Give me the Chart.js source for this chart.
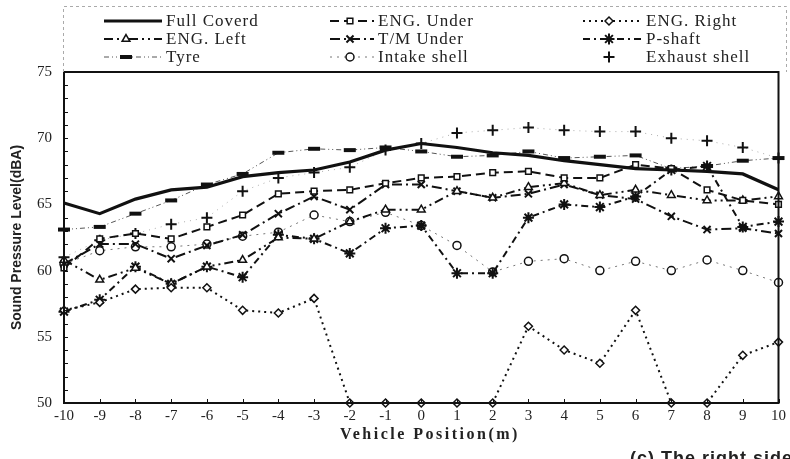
<!DOCTYPE html>
<html>
<head>
<meta charset="utf-8">
<script src="https://cdn.jsdelivr.net/npm/chart.js@4.4.1/dist/chart.umd.min.js"></script>
<style>
    html, body { margin: 0; padding: 0; background: #fff; }
    #wrap { width: 790px; height: 459px; }
</style>
</head>
<body>
<div id="wrap"><canvas id="noiseChart" width="790" height="459"></canvas></div>
<script>
// Vehicle position (m) along the pass-by line
const positions = ['-10', '-9', '-8', '-7', '-6', '-5', '-4', '-3', '-2', '-1', '0',
                   '1', '2', '3', '4', '5', '6', '7', '8', '9', '10'];

// Sound pressure level (dBA) per configuration
const fullCoverd = [65.1, 64.3, 65.4, 66.1, 66.3, 67.1, 67.4, 67.6, 68.2, 69.1, 69.6, 69.3, 68.9, 68.7, 68.3, 68.0, 67.7, 67.6, 67.5, 67.3, 66.1];
const engUnder   = [60.2, 62.4, 62.8, 62.4, 63.3, 64.2, 65.8, 66.0, 66.1, 66.6, 67.0, 67.1, 67.4, 67.5, 67.0, 67.0, 68.0, 67.7, 66.1, 65.3, 65.0];
const engRight   = [57.0, 57.6, 58.6, 58.7, 58.7, 57.0, 56.8, 57.9, 50, 50, 50, 50, 50, 55.8, 54.0, 53.0, 57.0, 50, 50, 53.6, 54.6];
const engLeft    = [60.8, 59.3, 60.2, 59.0, 60.3, 60.8, 62.5, 62.4, 63.7, 64.6, 64.6, 66.0, 65.5, 66.3, 66.6, 65.7, 66.1, 65.7, 65.3, 65.3, 65.6];
const tmUnder    = [60.5, 62.0, 62.0, 60.9, 61.9, 62.7, 64.3, 65.6, 64.6, 66.5, 66.5, 66.0, 65.5, 65.8, 66.5, 65.7, 65.4, 64.1, 63.1, 63.2, 62.8];
const pShaft     = [56.9, 57.8, 60.3, 59.0, 60.3, 59.5, 62.7, 62.4, 61.3, 63.2, 63.4, 59.8, 59.8, 64.0, 65.0, 64.8, 65.6, 67.6, 67.9, 63.3, 63.7];
const tyre       = [63.1, 63.3, 64.3, 65.3, 66.5, 67.3, 68.9, 69.2, 69.1, 69.3, 69.0, 68.6, 68.7, 69.0, 68.5, 68.6, 68.7, 67.7, 67.9, 68.3, 68.5];
const intakeShell  = [60.5, 61.5, 61.8, 61.8, 62.0, 62.6, 62.9, 64.2, 63.7, 64.4, 63.4, 61.9, 59.9, 60.7, 60.9, 60.0, 60.7, 60.0, 60.8, 60.0, 59.1];
const exhaustShell = [61.0, 62.3, 62.8, 63.5, 64.0, 66.0, 67.0, 67.4, 67.8, 69.1, 69.6, 70.4, 70.6, 70.8, 70.6, 70.5, 70.5, 70.0, 69.8, 69.3, 68.5];

const yTicks = [50, 55, 60, 65, 70, 75];

// one line series, black ink like the scanned figure
function series(label, data, opts) {
    return Object.assign({
        label: label,
        data: data,
        borderColor: '#111',
        backgroundColor: '#fff',
        pointBorderColor: '#111',
        pointBackgroundColor: '#fff',
        borderWidth: 2,
        borderDash: [],
        pointStyle: 'circle',
        pointRadius: 4,
        pointBorderWidth: 1.5,
        tension: 0,
        fill: false
    }, opts);
}

const datasets = [
    series('Full Coverd', fullCoverd, { borderWidth: 3.2, pointRadius: 0 }),
    series('ENG. Under', engUnder, { borderDash: [9, 5], pointStyle: 'rect', pointRadius: 4 }),
    series('ENG. Right', engRight, { borderDash: [2, 4], pointStyle: 'rectRot', pointRadius: 4 }),
    series('ENG. Left', engLeft, { borderDash: [9, 4, 2, 4, 2, 4], pointStyle: 'triangle', pointRadius: 4.5 }),
    series('T/M Under', tmUnder, { borderDash: [10, 4, 2, 4], pointStyle: 'crossRot', pointRadius: 5, pointBorderWidth: 2 }),
    series('P-shaft', pShaft, { borderDash: [7, 4, 2, 4], pointStyle: 'star', pointRadius: 5.5, pointBorderWidth: 2 }),
    series('Tyre', tyre, { borderWidth: 1, borderColor: '#555', borderDash: [5, 3, 1, 3, 1, 3], pointStyle: 'line', pointRadius: 6, pointBorderWidth: 4 }),
    series('Intake shell', intakeShell, { borderWidth: 1, borderColor: '#777', borderDash: [2, 5], pointStyle: 'circle', pointRadius: 4 }),
    series('Exhaust shell', exhaustShell, { borderWidth: 0.8, borderColor: '#999', borderDash: [1, 5], pointStyle: 'cross', pointRadius: 5.5, pointBorderWidth: 2, noLegendLine: true })
];

// 3 x 3 legend box above the plot, like the original figure
const gridLegend = {
    id: 'gridLegend',
    afterDraw(chart) {
        const ctx = chart.ctx;
        const lineStart = [104, 330, 583];
        const lineEnd = [162, 374, 641];
        const markX = [126, 350, 609];
        const textX = [166, 378, 646];
        const rowY = [21, 39, 57];

        ctx.save();
        ctx.strokeStyle = '#aaa';
        ctx.lineWidth = 1;
        ctx.setLineDash([3, 3]);
        ctx.beginPath();
        ctx.moveTo(63.5, 72);
        ctx.lineTo(63.5, 6.5);
        ctx.lineTo(786.5, 6.5);
        ctx.lineTo(786.5, 72);
        ctx.stroke();

        chart.data.datasets.forEach((ds, i) => {
            const col = i % 3;
            const y = rowY[Math.floor(i / 3)];
            if (!ds.noLegendLine) {
                ctx.strokeStyle = ds.borderColor;
                ctx.lineWidth = ds.borderWidth;
                ctx.setLineDash(ds.borderDash);
                ctx.beginPath();
                ctx.moveTo(lineStart[col], y);
                ctx.lineTo(lineEnd[col], y);
                ctx.stroke();
            }
            if (ds.pointRadius > 0) {
                ctx.setLineDash([]);
                ctx.strokeStyle = ds.pointBorderColor;
                ctx.fillStyle = ds.pointBackgroundColor;
                ctx.lineWidth = ds.pointBorderWidth;
                Chart.helpers.drawPoint(ctx, {
                    pointStyle: ds.pointStyle,
                    radius: ds.pointRadius,
                    rotation: 0,
                    borderWidth: ds.pointBorderWidth
                }, markX[col], y);
            }
            ctx.fillStyle = '#222';
            ctx.font = '17px "Liberation Serif"';
            ctx.letterSpacing = '1px';
            ctx.textBaseline = 'middle';
            ctx.textAlign = 'left';
            ctx.fillText(ds.label, textX[col], y + 1);
        });
        ctx.restore();
    }
};

// black frame, small inward ticks and the bottom texts
const frameAndTexts = {
    id: 'frameAndTexts',
    afterDatasetsDraw(chart) {
        const ctx = chart.ctx;
        const area = chart.chartArea;
        const xs = chart.scales.x;
        const ys = chart.scales.y;
        ctx.save();
        ctx.strokeStyle = '#111';
        ctx.setLineDash([]);
        ctx.lineWidth = 2;
        ctx.strokeRect(area.left, area.top, area.right - area.left, area.bottom - area.top);

        ctx.lineWidth = 1;
        ctx.beginPath();
        for (let v = 50; v <= 75; v++) {
            const y = Math.round(ys.getPixelForValue(v)) + 0.5;
            ctx.moveTo(area.left, y);
            ctx.lineTo(area.left + 4, y);
        }
        positions.forEach((p, i) => {
            const x = Math.round(xs.getPixelForValue(i)) + 0.5;
            ctx.moveTo(x, area.bottom);
            ctx.lineTo(x, area.bottom - 4);
        });
        ctx.stroke();

        ctx.fillStyle = '#222';
        ctx.textAlign = 'center';
        ctx.textBaseline = 'middle';
        ctx.font = 'bold 16px "Liberation Serif"';
        ctx.letterSpacing = '2.5px';
        ctx.fillText('Vehicle Position(m)', 430, 435);

        // caption of the sub-figure, cut by the bottom and right edges
        ctx.textAlign = 'left';
        ctx.textBaseline = 'alphabetic';
        ctx.font = 'bold 18px "Liberation Sans"';
        ctx.letterSpacing = '1px';
        ctx.fillText('(c) The right side', 630, 464);
        ctx.restore();
    }
};

const ctx = document.getElementById('noiseChart').getContext('2d');
const noiseChart = new Chart(ctx, {
    type: 'line',
    data: {
        labels: positions,
        datasets: datasets
    },
    options: {
        responsive: false,
        animation: false,
        devicePixelRatio: 1,
        clip: false,
        layout: {
            padding: { top: 72, right: 9, bottom: 0, left: 0 }
        },
        plugins: {
            legend: { display: false },
            title: { display: false },
            tooltip: { enabled: false }
        },
        scales: {
            x: {
                type: 'category',
                offset: false,
                grid: { display: false, drawTicks: false },
                border: { display: false },
                ticks: {
                    color: '#222',
                    font: { family: 'Liberation Serif', size: 15 },
                    padding: 4,
                    maxRotation: 0,
                    autoSkip: false
                },
                afterFit(scale) { scale.height = 56; }
            },
            y: {
                min: 50,
                max: 75,
                grid: { display: false, drawTicks: false },
                border: { display: false },
                afterBuildTicks(scale) {
                    scale.ticks = yTicks.map(v => ({ value: v }));
                },
                ticks: {
                    color: '#222',
                    font: { family: 'Liberation Serif', size: 15 },
                    padding: 12
                },
                title: {
                    display: true,
                    text: 'Sound Pressure Level(dBA)',
                    color: '#222',
                    font: { family: 'Liberation Sans', size: 14, weight: 'bold' },
                    padding: { top: 9, bottom: 0 }
                },
                afterFit(scale) { scale.width = 64; }
            }
        }
    },
    plugins: [gridLegend, frameAndTexts]
});
</script>
</body>
</html>
